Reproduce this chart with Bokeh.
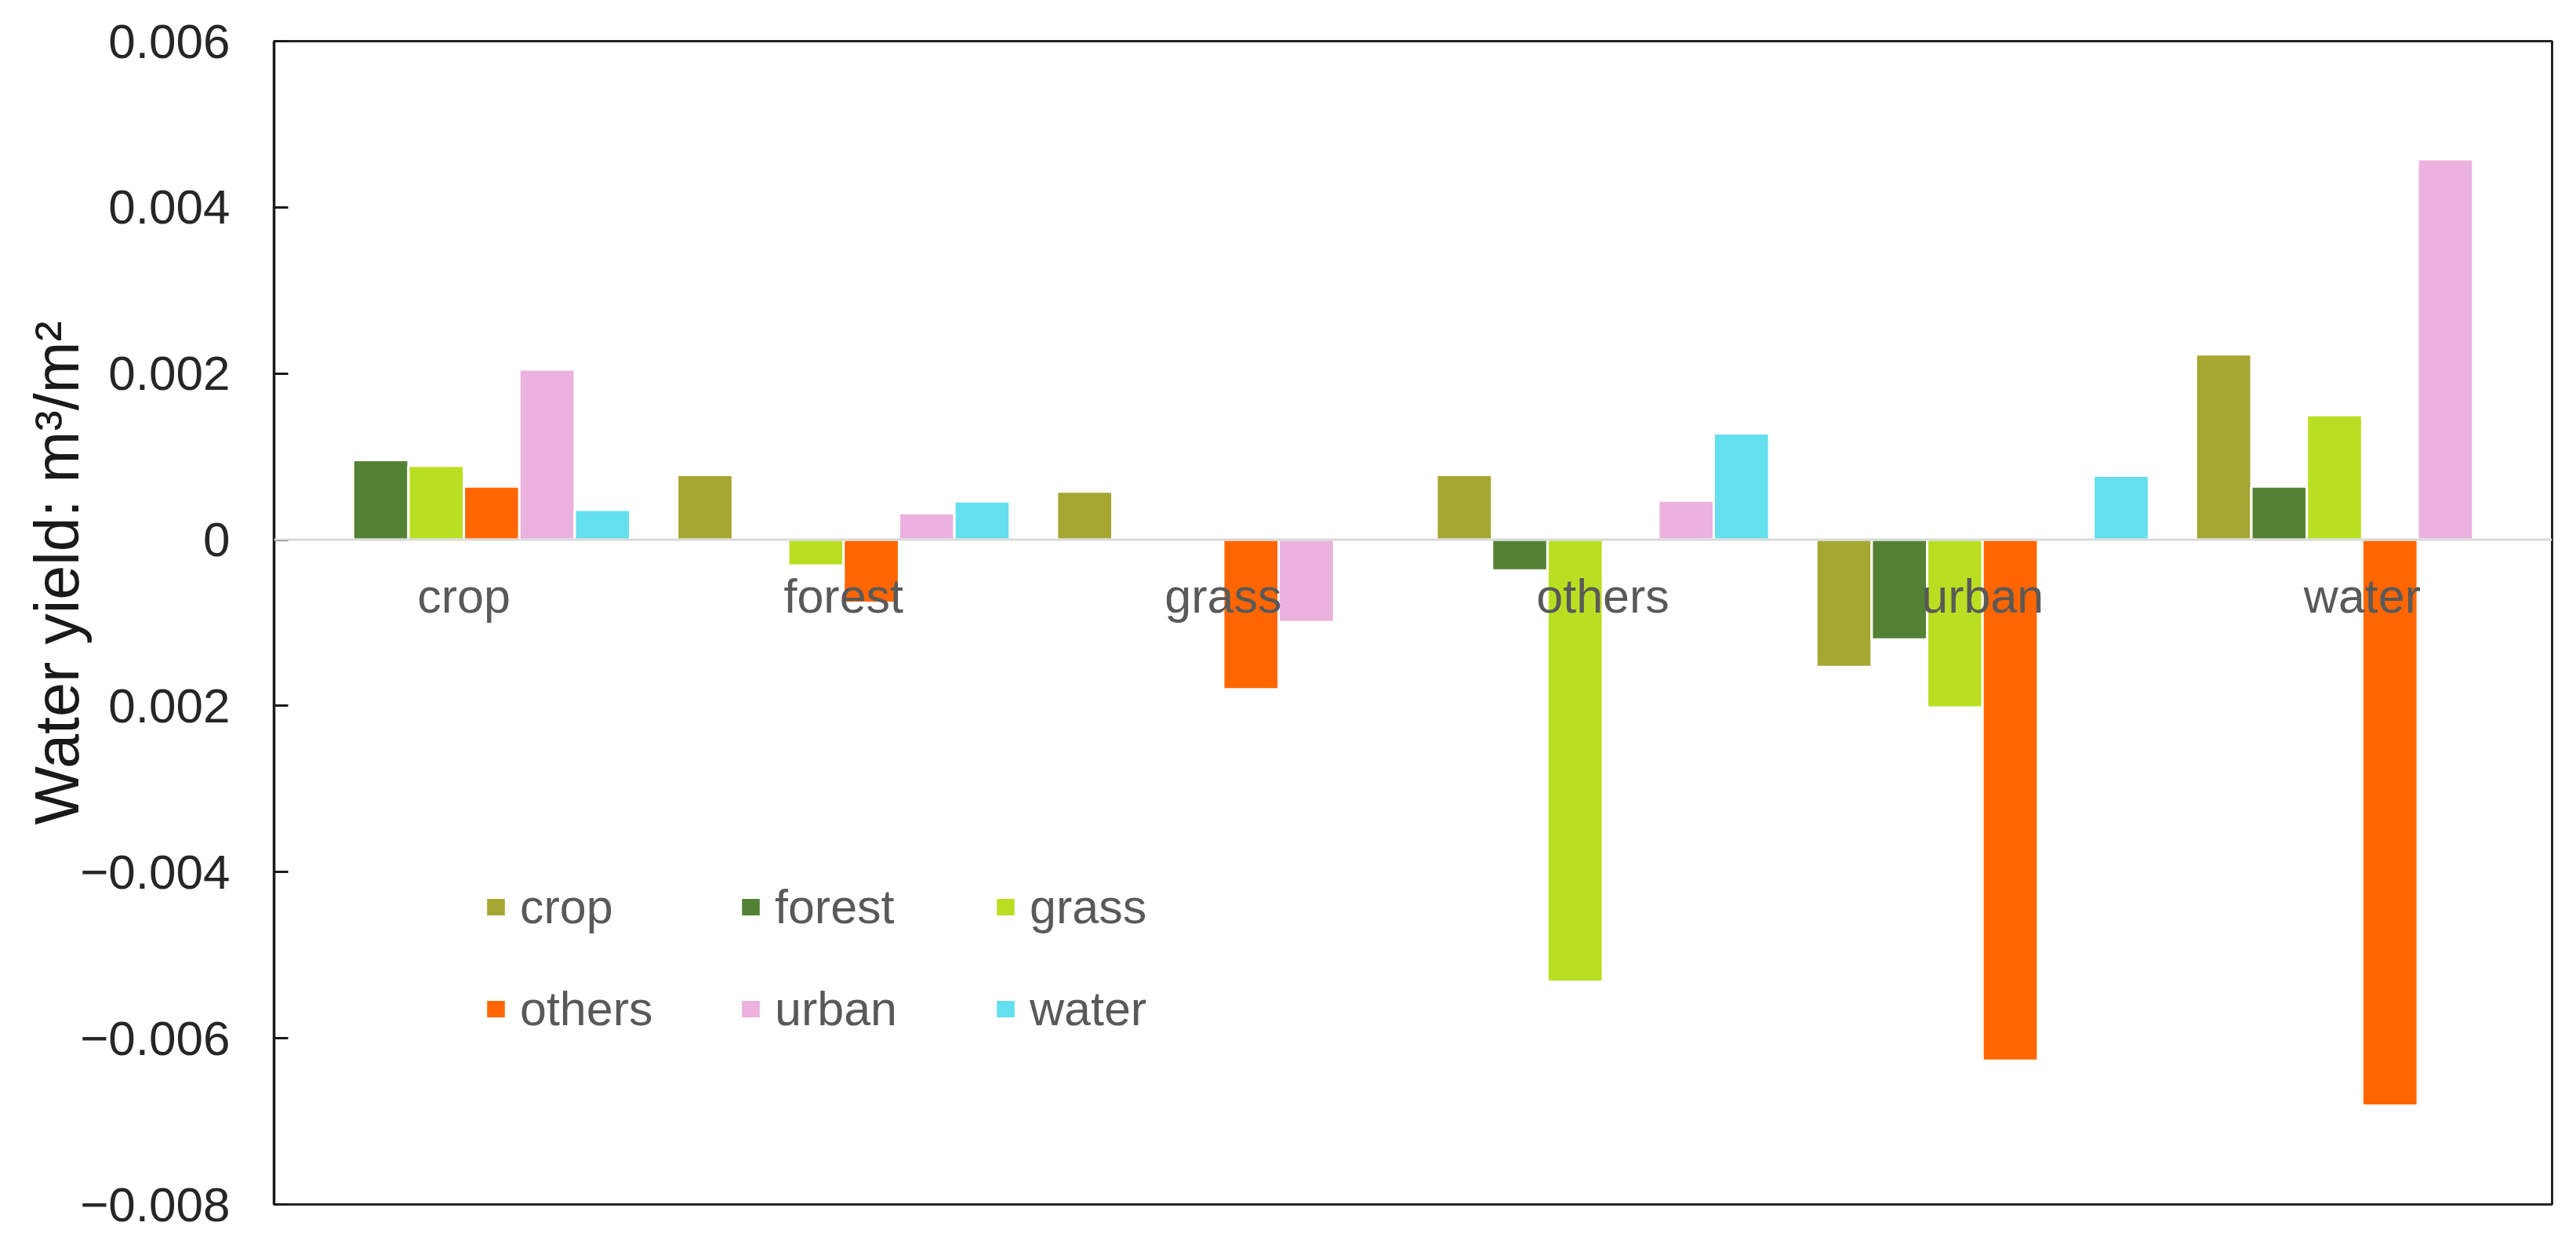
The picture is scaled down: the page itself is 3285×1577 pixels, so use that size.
from bokeh.plotting import figure
from bokeh.models import (ColumnDataSource, FactorRange, Range1d, FixedTicker, Span,
                          Legend, LegendItem, Title)
from bokeh.transform import dodge
from bokeh.core.properties import value
from bokeh.embed import file_html
from bokeh.resources import INLINE

# ---------------- data ----------------
categories = ["crop", "forest", "grass", "others", "urban", "water"]
series_names = ["crop", "forest", "grass", "others", "urban", "water"]

crop_vals = [0.0, 0.00078, 0.00058, 0.00078, -0.00153, 0.00223]
forest_vals = [0.00096, 0.0, 0.0, -0.00037, -0.00120, 0.00064]
grass_vals = [0.00089, -0.00031, 0.0, -0.00532, -0.00202, 0.00150]
others_vals = [0.00064, -0.00076, -0.00180, 0.0, -0.00627, -0.00681]
urban_vals = [0.00205, 0.00032, -0.00099, 0.00047, 0.0, 0.00458]
water_vals = [0.00036, 0.00046, 0.0, 0.00128, 0.00077, 0.0]

y_tick_values = [-0.008, -0.006, -0.004, -0.002, 0, 0.002, 0.004, 0.006]
y_tick_labels = ["\u22120.008", "\u22120.006", "\u22120.004", "0.002", "0",
                 "0.002", "0.004", "0.006"]
y_label = "Water yield: m\u00b3/m\u00b2"

colors = ["#A6A632", "#548235", "#BADF22", "#FF6600", "#EBB1DF", "#63DFED"]

# ---------------- figure ----------------
FONT = "Liberation Sans"
bar_w = 0.146

p = figure(x_range=FactorRange(*categories, range_padding=0),
           y_range=Range1d(-0.008, 0.006),
           frame_width=2905, frame_height=1483,
           min_border_left=349, min_border_right=23,
           min_border_top=52, min_border_bottom=34,
           output_backend="svg", toolbar_location=None,
           background_fill_color="white", border_fill_color="white")

src = ColumnDataSource(dict(cat=categories, crop=crop_vals, forest=forest_vals,
                            grass=grass_vals, others=others_vals,
                            urban=urban_vals, water=water_vals,
                            base=[0.0] * len(categories)))

renderers = []
for i, name in enumerate(series_names):
    off = (i - 2.5) * bar_w
    r = p.vbar(x=dodge("cat", off, range=p.x_range), top=name, bottom=0,
               width=bar_w, source=src, fill_color=colors[i],
               line_color="white", line_width=3)
    renderers.append(r)

# zero line
p.add_layout(Span(location=0, dimension="width", line_color="#D9D9D9", line_width=3))

# category labels near the zero line
p.text(x="cat", y="base", text="cat", source=src, text_align="center",
       text_baseline="alphabetic", y_offset=72, text_font=value(FONT),
       text_font_size="61px", text_color="#595959")

# axes
p.xaxis.visible = False
p.xgrid.visible = False
p.ygrid.visible = False

ya = p.yaxis[0]
ya.ticker = FixedTicker(ticks=y_tick_values)
ya.major_label_overrides = dict(zip(y_tick_values, y_tick_labels))
ya.major_tick_in = 18
ya.major_tick_out = 0
ya.minor_tick_line_color = None
ya.major_tick_line_width = 3
ya.major_tick_line_color = "#1a1a1a"
ya.axis_line_width = 3.5
ya.axis_line_color = "#1a1a1a"
ya.major_label_standoff = 56
ya.major_label_text_font = FONT
ya.major_label_text_font_size = "62px"
ya.major_label_text_color = "#262626"

p.outline_line_color = "#262626"
p.outline_line_width = 3
p.outline_line_alpha = 1

# y-axis title as a side title (allows positioning along the side)
p.add_layout(Title(text=y_label, align="left", vertical_align="bottom",
                   offset=484, standoff=-34, text_font=FONT,
                   text_font_size="79px", text_font_style="normal",
                   text_color="#1a1a1a"), "left")

# legend
items = [LegendItem(label=n, renderers=[r]) for n, r in zip(series_names, renderers)]
legend = Legend(items=items, orientation="horizontal", ncols=3,
                location=(267, 184), padding=0, margin=0, spacing=0,
                glyph_width=32, glyph_height=30, label_standoff=15,
                label_width=278, label_height=130,
                label_text_font=FONT, label_text_font_size="61px",
                label_text_color="#595959",
                border_line_color=None, background_fill_alpha=0)
p.add_layout(legend, "center")

open("out.html", "w").write(file_html(p, INLINE))
